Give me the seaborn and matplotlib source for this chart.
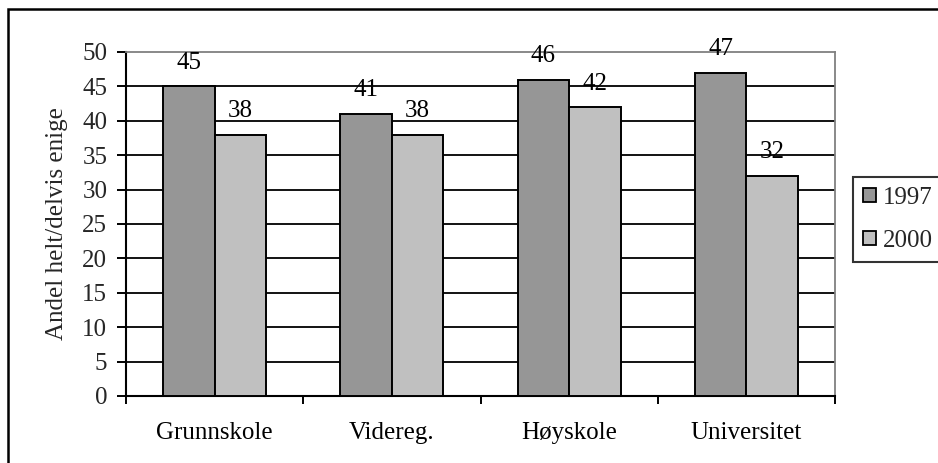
import matplotlib
matplotlib.use("Agg")
import matplotlib.pyplot as plt
import matplotlib.patches as mpatches
import seaborn as sns
import pandas as pd

categories = ["Grunnskole", "Videreg.", "Høyskole", "Universitet"]
years = ["1997", "2000"]
values_1997 = [45, 41, 46, 47]
values_2000 = [38, 38, 42, 32]
y_ticks = [0, 5, 10, 15, 20, 25, 30, 35, 40, 45, 50]
y_label = "Andel helt/delvis enige"

df = pd.DataFrame({
    "Utdanning": categories * 2,
    "År": [years[0]] * len(categories) + [years[1]] * len(categories),
    "Andel": values_1997 + values_2000,
})

sns.set_theme(style="white")
plt.rcParams["font.family"] = ["Liberation Serif", "DejaVu Serif"]
FS = 18

fig = plt.figure(figsize=(9.38, 4.63), dpi=100)
ax = fig.add_axes([126 / 938, 1 - 396 / 463, (835 - 126) / 938, (396 - 52) / 463])

palette = {"1997": "#969696", "2000": "#c0c0c0"}
sns.barplot(data=df, x="Utdanning", y="Andel", hue="År", hue_order=years,
            order=categories, palette=palette, width=0.58, gap=0,
            edgecolor="black", linewidth=1.4, saturation=1, ax=ax,
            legend=False, zorder=3)

for cont in ax.containers:
    ax.bar_label(cont, fmt="%d", padding=9, fontsize=FS, color="black", zorder=4)

ax.set_ylim(0, 50)
ax.set_xlim(-0.5, len(categories) - 0.5)
ax.set_yticks(y_ticks)
ax.set_yticklabels([str(t) for t in y_ticks], fontsize=FS)
ax.set_xticks(range(len(categories)))
ax.set_xticklabels(categories, fontsize=FS)
ax.set_xticks([i - 0.5 for i in range(len(categories) + 1)], minor=True)
ax.tick_params(axis="x", which="major", length=0, pad=19, colors="black")
ax.tick_params(axis="x", which="minor", length=6, width=1.4, color="black", bottom=True)
ax.tick_params(axis="y", which="major", length=6.5, width=1.4, color="black", left=True, pad=7)
ax.set_xlabel("")
ax.set_ylabel(y_label, fontsize=FS, labelpad=10)

for t in y_ticks[1:-1]:
    ax.axhline(t, color="black", lw=1.3, zorder=1)

ax.spines["left"].set_color("black")
ax.spines["left"].set_linewidth(1.5)
ax.spines["bottom"].set_color("black")
ax.spines["bottom"].set_linewidth(1.5)
for s in ("top", "right"):
    ax.spines[s].set_color("#808080")
    ax.spines[s].set_linewidth(1.3)

handles = [mpatches.Patch(facecolor=palette[y], edgecolor="black", linewidth=1.3, label=y) for y in years]
leg = fig.legend(handles=handles, loc="upper left", bbox_to_anchor=(853 / 938, 1 - 177 / 463),
                 frameon=True, fancybox=False, edgecolor="black", fontsize=FS,
                 handlelength=0.5, handleheight=0.5, handletextpad=0.3,
                 borderpad=0.4, labelspacing=0.85, borderaxespad=0)
leg.get_frame().set_linewidth(1.5)

fig.patches.append(mpatches.Rectangle((8 / 938, 1 - 475 / 463), (950 - 8) / 938, (475 - 9) / 463,
                                      transform=fig.transFigure, fill=False,
                                      edgecolor="black", linewidth=1.8))

fig.savefig("out.png", dpi=100, facecolor="white")
